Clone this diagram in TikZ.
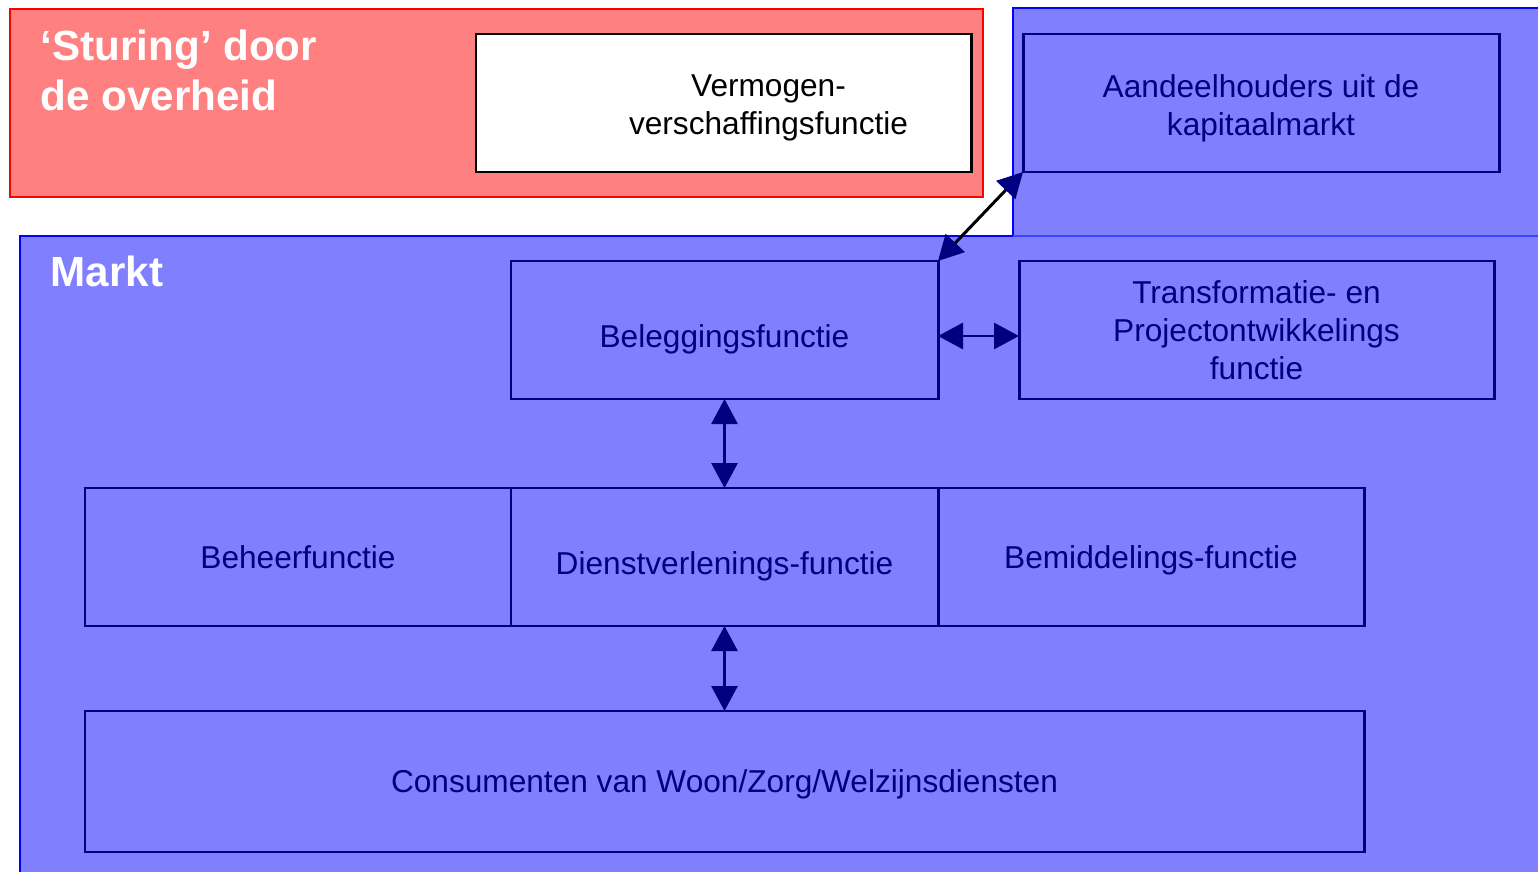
\documentclass[tikz,border=0pt]{standalone}
\usepackage{fontspec}
\setmainfont{Liberation Sans}
\usepackage{xcolor}
\usepackage{tikz}
\usetikzlibrary{positioning,arrows.meta,calc}
\definecolor{navy}{RGB}{0,0,128}
\definecolor{markt}{RGB}{128,128,255}
\definecolor{overheid}{RGB}{255,128,128}
\definecolor{lightedge}{RGB}{64,64,255}
\newcommand{\lowered}[2][0.09cm]{\raisebox{-#1}[\height][\depth]{#2}}
\tikzset{
    func/.style={rectangle, draw=navy, line width=0.85pt, fill=markt, text=navy, align=center, inner sep=0pt, outer sep=0pt, minimum height=1.38cm, font=\fontsize{9}{10.8}\selectfont},
    plain/.style={rectangle, draw=black, line width=0.85pt, fill=white, inner sep=0pt, outer sep=0pt, minimum width=4.95cm, minimum height=1.38cm},
    heading/.style={text=white, font=\fontsize{12}{14.2}\selectfont\bfseries, align=left, inner sep=0pt},
    link/.style={draw=navy, line width=0.85pt, {Triangle[length=2.5mm,width=2.6mm,color=navy]}-{Triangle[length=2.5mm,width=2.6mm,color=navy]}}
}
\begin{document}
\begin{tikzpicture}
    \useasboundingbox (0,0) rectangle (15.38,-8.72);

    % Overheid
    \fill [overheid, draw=red, line width=0.6pt] (0.10,-0.09) rectangle (9.83,-1.97);
    \node [heading, anchor=north west] (sturing) at (0.40,-0.29) {‘Sturing’ door\\de overheid};

    % Markt
    \fill [markt] (10.13,-0.08) rectangle (15.60,-2.36);
    \fill [markt] (0.20,-2.36) rectangle (15.60,-8.90);
    \draw [blue, line width=0.6pt] (10.13,-2.36) -- (10.13,-0.08) -- (15.60,-0.08);
    \draw [blue, line width=0.6pt] (0.20,-8.90) -- (0.20,-2.36) -- (10.13,-2.36);
    \draw [lightedge, line width=0.6pt] (10.13,-2.36) -- (15.60,-2.36);
    \node [heading, anchor=base west] (markt) at (0.50,-2.87) {Markt};

    % Functies
    \node [plain, label={[xshift=0.45cm, yshift=-0.05cm, align=center, font=\fontsize{9}{10.8}\selectfont]center:Vermogen-\\verschaffingsfunctie}] (verm) at (7.235,-1.03) {};
    \node [func, minimum width=4.76cm] (aand) at (12.61,-1.03) {\lowered[0.06cm]{\begin{tabular}{@{}c@{}}Aandeelhouders uit de\\kapitaalmarkt\end{tabular}}};
    \node [func, minimum width=4.27cm] (bel) at (7.245,-3.30) {\lowered{Beleggingsfunctie}};
    \node [func, minimum width=4.75cm, right=0.81cm of bel] (trans) {Transformatie- en\\Projectontwikkelings\\functie};
    \node [func, minimum width=4.27cm, below=0.89cm of bel] (dienst) {\lowered{Dienstverlenings-functie}};
    \node [func, minimum width=4.26cm, left=0pt of dienst] (beheer) {Beheerfunctie};
    \node [func, minimum width=4.26cm, right=0pt of dienst] (bemid) {\lowered[0.03cm]{Bemiddelings-functie}};
    \node [func, minimum width=12.79cm, minimum height=1.41cm, below=0.85cm of dienst] (cons) {\lowered[0.03cm]{Consumenten van Woon/Zorg/Welzijnsdiensten}};

    % Relaties
    \path [link, draw=black] (bel.north east) -- (aand.south west);
    \path [link] ([yshift=-0.06cm]bel.east) -- ([yshift=-0.06cm]trans.west);
    \path [link] (bel.south) -- (dienst.north);
    \path [link] (dienst.south) -- (cons.north);
\end{tikzpicture}
\end{document}
